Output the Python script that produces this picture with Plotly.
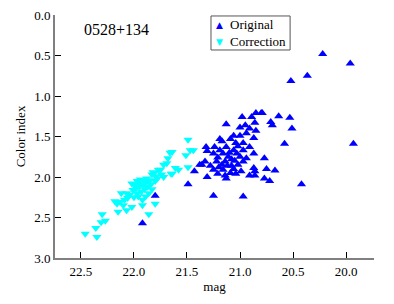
import plotly.graph_objects as go

# Original (blue, triangle-up)
orig_mag = [20.22, 19.96, 20.365, 20.52, 20.79, 20.85, 20.80, 20.89, 20.98, 20.635,
            20.53, 20.71, 20.695, 20.86, 21.13, 20.95, 21.00, 20.91, 20.51, 20.85,
            20.94, 21.06, 21.00, 21.19, 21.17, 21.09, 20.87, 21.04, 20.97, 20.58,
            19.93, 21.32, 21.24, 21.13, 20.91, 21.31, 21.19, 21.06, 20.97, 21.25,
            21.16, 21.03, 20.87, 21.21, 21.11, 21.00, 20.94, 20.77, 21.33, 21.22,
            21.14, 21.05, 20.97, 21.28, 21.17, 21.08, 21.02, 21.36, 21.38, 21.25,
            21.16, 21.06, 20.87, 20.75, 20.67, 21.43, 21.21, 21.09, 20.86, 21.31,
            21.13, 20.91, 20.86, 20.77, 20.72, 21.49, 20.42, 21.25, 20.97, 21.80,
            21.92, 21.10, 21.02, 21.08, 21.20, 21.12, 20.99, 21.04, 21.14]
orig_ci = [0.48, 0.60, 0.75, 0.815, 1.21, 1.21, 1.21, 1.26, 1.26, 1.25,
           1.27, 1.32, 1.36, 1.33, 1.35, 1.36, 1.39, 1.40, 1.40, 1.43,
           1.46, 1.49, 1.49, 1.53, 1.56, 1.53, 1.52, 1.58, 1.58, 1.59,
           1.59, 1.63, 1.63, 1.63, 1.63, 1.68, 1.67, 1.67, 1.67, 1.71,
           1.71, 1.71, 1.71, 1.76, 1.75, 1.75, 1.77, 1.77, 1.81, 1.81,
           1.81, 1.80, 1.81, 1.86, 1.85, 1.86, 1.85, 1.85, 1.85, 1.91,
           1.91, 1.90, 1.89, 1.90, 1.92, 1.93, 1.96, 1.95, 1.93, 2.00,
           2.02, 1.98, 1.98, 2.02, 2.05, 2.09, 2.09, 2.23, 2.24, 2.23,
           2.57, 1.70, 1.62, 1.78, 1.88, 1.86, 1.93, 1.96, 1.98]

# Correction (cyan, triangle-down)
corr_mag = [22.46, 22.35, 22.36, 22.31, 22.27, 22.30, 22.15, 22.07, 22.02, 22.10,
            22.13, 22.12, 22.07, 22.02, 21.98, 21.95, 21.92, 21.86, 21.80, 21.81,
            21.75, 21.72, 21.64, 21.58, 21.49, 21.66, 21.69, 21.49, 21.44, 21.47,
            21.51, 21.64, 21.68, 21.72, 21.61, 21.77, 21.82, 21.83, 21.65,
            21.99, 21.95, 21.91, 21.88, 21.85, 21.90, 21.93, 21.97, 22.01, 22.04,
            22.06, 21.87, 21.84, 21.80, 21.78, 21.90, 21.94, 21.97, 21.86, 21.83,
            21.89, 22.00, 22.09, 21.92, 21.88, 21.79, 21.74, 22.16, 22.18, 21.96]
corr_ci = [2.70, 2.74, 2.63, 2.56, 2.54, 2.46, 2.43, 2.41, 2.37, 2.35,
           2.31, 2.20, 2.20, 2.08, 2.14, 2.08, 2.35, 2.46, 2.33, 1.95,
           1.91, 2.00, 1.96, 1.91, 1.88, 1.70, 1.83, 1.54, 1.67, 1.67,
           1.73, 1.69, 1.77, 1.85, 1.89, 1.91, 1.94, 1.97, 1.96,
           2.10, 2.12, 2.10, 2.06, 2.04, 2.15, 2.18, 2.20, 2.16, 2.22,
           2.26, 2.12, 2.09, 2.05, 2.02, 2.05, 2.03, 2.05, 2.20, 2.15,
           2.24, 2.25, 2.28, 2.28, 2.02, 1.99, 1.97, 2.33, 2.30, 2.24]

series_names = ["Original", "Correction"]
series_colors = ["#0000FF", "#00FFFF"]
x_ticks = [22.5, 22.0, 21.5, 21.0, 20.5, 20.0]
y_ticks = [0.0, 0.5, 1.0, 1.5, 2.0, 2.5, 3.0]

FONT = "Liberation Serif"

fig = go.Figure()
fig.add_trace(go.Scatter(x=corr_mag, y=corr_ci, mode="markers", name=series_names[1],
                         showlegend=False,
                         marker=dict(symbol="triangle-down", size=8, color=series_colors[1])))
fig.add_trace(go.Scatter(x=orig_mag, y=orig_ci, mode="markers", name=series_names[0],
                         showlegend=False,
                         marker=dict(symbol="triangle-up", size=8, color=series_colors[0])))

axis_common = dict(showgrid=False, zeroline=False, showline=True, linecolor="#808080",
                   linewidth=2, ticks="inside", ticklen=6, tickcolor="#000000",
                   tickwidth=1, tickformat=".1f", mirror=False, automargin=False,
                   tickfont=dict(family=FONT, size=13, color="#000"))

# legend drawn as a box with symbols and labels (compact like the reference)
legend_box = dict(type="rect", xref="paper", yref="paper",
                  x0=0.489, x1=0.737, y0=0.856, y1=0.996,
                  line=dict(color="#555555", width=1), fillcolor="white", layer="above")
leg_rows_y = [0.959, 0.889]
leg_syms = ["▲", "▼"]
annotations = [dict(text="0528+134", x=0.085, y=0.985, xref="paper", yref="paper",
                    xanchor="left", yanchor="top", showarrow=False,
                    font=dict(family=FONT, size=16))]
for name, col, sym, yy in zip(series_names, series_colors, leg_syms, leg_rows_y):
    annotations.append(dict(text=sym, x=0.516, y=yy, xref="paper", yref="paper",
                            xanchor="center", yanchor="middle", showarrow=False,
                            font=dict(family="DejaVu Sans", size=9, color=col)))
    annotations.append(dict(text=name, x=0.543, y=yy, xref="paper", yref="paper",
                            xanchor="left", yanchor="middle", showarrow=False,
                            font=dict(family=FONT, size=13, color="#000")))

fig.update_layout(
    width=394, height=304,
    margin=dict(l=55, r=20, t=15, b=46),
    paper_bgcolor="white", plot_bgcolor="white",
    font=dict(family=FONT, size=13, color="#000"),
    showlegend=False,
    xaxis=dict(range=[22.745, 19.736], tickvals=x_ticks,
               title=dict(text="mag", font=dict(family=FONT, size=13), standoff=4),
               **axis_common),
    yaxis=dict(range=[3.0, 0.0], tickvals=y_ticks,
               title=dict(text="Color index", font=dict(family=FONT, size=13), standoff=6),
               **axis_common),
    shapes=[legend_box],
    annotations=annotations,
)

fig.write_html("out.html",
               config={"displayModeBar": False},
               post_script="document.body.style.margin='0';document.body.style.overflow='hidden';")
